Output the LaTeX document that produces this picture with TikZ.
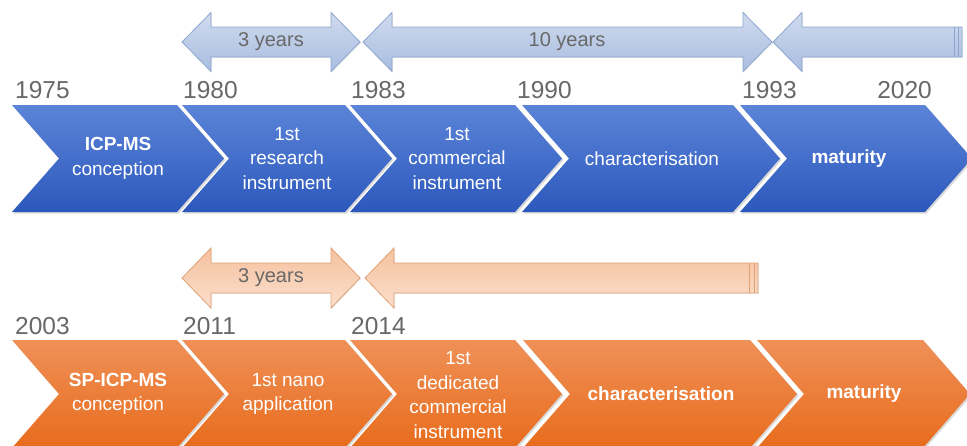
\documentclass[tikz,border=0pt]{standalone}
\usepackage{fontspec}
\setmainfont{Liberation Sans}
\usepackage{tikz}
\usetikzlibrary{shadows}

\definecolor{blueTop}{HTML}{5B84D8}
\definecolor{blueBot}{HTML}{2C58BC}
\definecolor{orangeTop}{HTML}{EF9058}
\definecolor{orangeBot}{HTML}{E86C1C}
\definecolor{spanBlueTop}{HTML}{D0DBEE}
\definecolor{spanBlueBot}{HTML}{A8BDE0}
\definecolor{spanBlueLine}{HTML}{8CA4CE}
\definecolor{spanOrTop}{HTML}{F5C19E}
\definecolor{spanOrBot}{HTML}{FBDFCC}
\definecolor{spanOrLine}{HTML}{E0A174}
\definecolor{yearGray}{HTML}{686868}

\begin{document}
\begin{tikzpicture}[
  x=1pt, y=-1pt,
  chev/.style 2 args={top color=#1, bottom color=#2, drop shadow={opacity=0.3, shadow xshift=1.5pt, shadow yshift=-1.5pt}},
  span/.style n args={3}{top color=#1, bottom color=#2, draw=#3, line width=0.8pt, drop shadow={opacity=0.15, shadow xshift=1pt, shadow yshift=-1pt}},
  brk/.style={draw=#1, line width=0.8pt},
  year/.style={text=yearGray, font=\fontsize{24.5}{28}\selectfont, inner sep=0pt},
  lbl/.style={text=white, align=center, font=\fontsize{19}{24.5}\selectfont},
  yrs/.style={text=yearGray, font=\fontsize{20}{24}\selectfont}
]
\useasboundingbox (0,0) rectangle (967,445);
\clip (0,0) rectangle (967,445);

% ICP-MS row
\path[chev={blueTop}{blueBot}] (12,105) -- (177,105) -- (224,158.5) -- (177,212) -- (12,212) -- (59,158.5) -- cycle;
\path[chev={blueTop}{blueBot}] (182,105) -- (345,105) -- (392,158.5) -- (345,212) -- (182,212) -- (229,158.5) -- cycle;
\path[chev={blueTop}{blueBot}] (350,105) -- (515,105) -- (562,158.5) -- (515,212) -- (350,212) -- (397,158.5) -- cycle;
\path[chev={blueTop}{blueBot}] (522,105) -- (733,105) -- (780,158.5) -- (733,212) -- (522,212) -- (569,158.5) -- cycle;
\path[chev={blueTop}{blueBot}] (740,105) -- (925,105) -- (972,158.5) -- (925,212) -- (740,212) -- (787,158.5) -- cycle;

\node[lbl] (conc) at (118,158.5) {\textbf{ICP-MS}\\conception};
\node[lbl] (res) at (287,158.5) {1st\\research\\instrument};
\node[lbl] (comm) at (457,158.5) {1st\\commercial\\instrument};
\node[lbl] (char) at (652,158.5) {characterisation};
\node[lbl] (mat) at (849,158.5) {\textbf{maturity}};

\node[year, anchor=base west] (y75) at (15,98.5) {1975};
\node[year, anchor=base west] (y80) at (183,98.5) {1980};
\node[year, anchor=base west] (y83) at (351,98.5) {1983};
\node[year, anchor=base west] (y90) at (517,98.5) {1990};
\node[year, anchor=base west] (y93) at (742,98.5) {1993};
\node[year, anchor=base east] (y20) at (932,98.5) {2020};

\path[span={spanBlueTop}{spanBlueBot}{spanBlueLine}] (182,42) -- (211,12.5) -- (211,27) -- (331,27) -- (331,12.5) -- (360,42) -- (331,71.5) -- (331,57) -- (211,57) -- (211,71.5) -- cycle;
\path[span={spanBlueTop}{spanBlueBot}{spanBlueLine}] (363,42) -- (392,12.5) -- (392,27) -- (743,27) -- (743,12.5) -- (772,42) -- (743,71.5) -- (743,57) -- (392,57) -- (392,71.5) -- cycle;
\path[span={spanBlueTop}{spanBlueBot}{spanBlueLine}] (773,42) -- (802,12.5) -- (802,27) -- (962,27) -- (962,57) -- (802,57) -- (802,71.5) -- cycle;
\draw[brk=spanBlueLine] (954,27) -- (954,57) (958,27) -- (958,57);

\node[yrs] (t1) at (271,42) {3 years};
\node[yrs] (t2) at (567,42) {10 years};

% SP-ICP-MS row
\path[chev={orangeTop}{orangeBot}] (12,340) -- (177,340) -- (224,394) -- (177,448) -- (12,448) -- (59,394) -- cycle;
\path[chev={orangeTop}{orangeBot}] (182,340) -- (345,340) -- (392,394) -- (345,448) -- (182,448) -- (229,394) -- cycle;
\path[chev={orangeTop}{orangeBot}] (350,340) -- (515,340) -- (562,394) -- (515,448) -- (350,448) -- (397,394) -- cycle;
\path[chev={orangeTop}{orangeBot}] (523,340) -- (750,340) -- (797,394) -- (750,448) -- (523,448) -- (570,394) -- cycle;
\path[chev={orangeTop}{orangeBot}] (757,340) -- (923,340) -- (970,394) -- (923,448) -- (757,448) -- (804,394) -- cycle;

\node[lbl] (spconc) at (118,394) {\textbf{SP-ICP-MS}\\conception};
\node[lbl] (nano) at (288,394) {1st nano\\application};
\node[lbl] (ded) at (458,395) {1st\\dedicated\\commercial\\instrument};
\node[lbl] (spchar) at (661,394) {\textbf{characterisation}};
\node[lbl] (spmat) at (864,394) {\textbf{maturity}};

\node[year, anchor=base west] (y03) at (15,334.5) {2003};
\node[year, anchor=base west] (y11) at (183,334.5) {2011};
\node[year, anchor=base west] (y14) at (351,334.5) {2014};

\path[span={spanOrTop}{spanOrBot}{spanOrLine}] (182,278) -- (211,248) -- (211,263) -- (331,263) -- (331,248) -- (360,278) -- (331,308) -- (331,293) -- (211,293) -- (211,308) -- cycle;
\path[span={spanOrTop}{spanOrBot}{spanOrLine}] (365,278) -- (394,248) -- (394,263) -- (758,263) -- (758,293) -- (394,293) -- (394,308) -- cycle;
\draw[brk=spanOrLine] (749,263) -- (749,293) (754,263) -- (754,293);

\node[yrs] (t3) at (271,278) {3 years};
\end{tikzpicture}
\end{document}
